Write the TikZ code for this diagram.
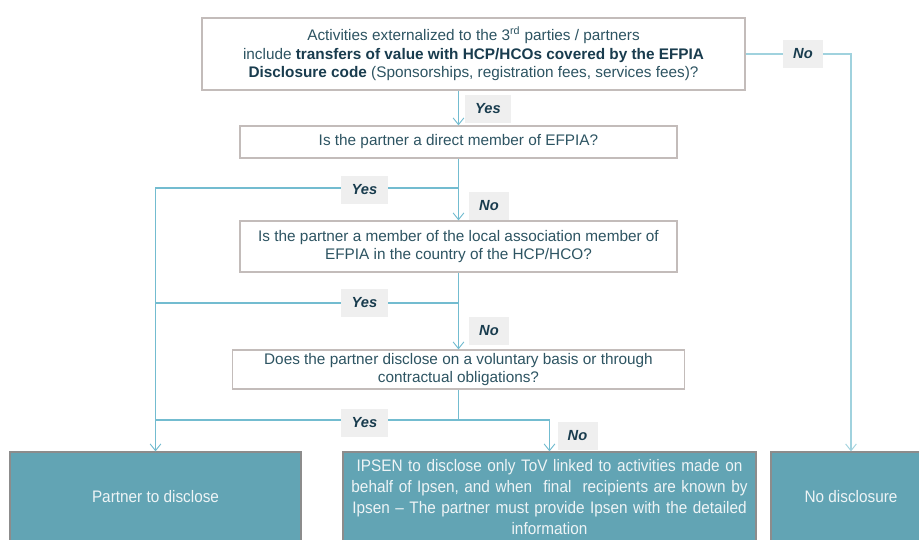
\documentclass[tikz,border=0pt]{standalone}
\usepackage{fontspec}
\setmainfont{Liberation Sans}
\newfontfamily\narrowfont[FakeStretch=0.92,Ligatures=TeX]{Liberation Sans}
\usetikzlibrary{arrows.meta}
\definecolor{txt}{RGB}{45,84,98}
\definecolor{boldtxt}{RGB}{25,60,78}
\definecolor{boxline}{RGB}{195,188,186}
\definecolor{conn}{RGB}{115,188,208}
\definecolor{connlight}{RGB}{160,210,222}
\definecolor{lblfill}{RGB}{239,239,239}
\definecolor{tealfill}{RGB}{98,164,180}
\definecolor{tealline}{RGB}{140,140,140}
\definecolor{endtxt}{RGB}{238,244,246}
\tikzset{
  qbox/.style={draw=boxline, line width=0.9pt, fill=white, text=txt, align=center, inner sep=0pt, font=\fontsize{11.5}{14}\selectfont},
  endbox/.style={draw=tealline, line width=0.9pt, fill=tealfill, text=endtxt, align=center, inner sep=0pt, font=\narrowfont\fontsize{12.5}{15.9}\selectfont},
  flow/.style={draw=conn, line width=0.9pt},
  tip/.style={-{Straight Barb[length=5pt,width=8pt,line width=0.7pt]}},
  lbl/.style={fill=lblfill, text=boldtxt, inner sep=0pt, minimum height=21pt, font=\fontsize{11}{12}\selectfont\bfseries\itshape},
  yeslbl/.style={lbl, minimum width=35pt},
  nolbl/.style={lbl, minimum width=30pt}
}
\begin{document}
\begin{tikzpicture}[x=0.75pt,y=-0.75pt]
\useasboundingbox (0,0) rectangle (919,539);
% question boxes
\node[qbox, minimum width=407.25pt, minimum height=54pt] (b1) at (473.5,54)
 {Activities externalized to the 3\textsuperscript{rd} parties / partners\\
  include \textcolor{boldtxt}{\textbf{transfers of value with HCP/HCOs covered by the EFPIA}}\\
  \textcolor{boldtxt}{\textbf{Disclosure code}} (Sponsorships, registration fees, services fees)?};
\node[qbox, minimum width=327.75pt, minimum height=24pt] (b2) at (458.5,142)
 {Is the partner a direct member of EFPIA?};
\node[qbox, minimum width=327.75pt, minimum height=38.25pt] (b3) at (458.5,246.5)
 {Is the partner a member of the local association member of\\ EFPIA in the country of the HCP/HCO?};
\node[qbox, minimum width=339pt, minimum height=29.25pt] (b4) at (458.5,369.5)
 {Does the partner disclose on a voluntary basis or through\\ contractual obligations?};
% end boxes
\node[endbox, minimum width=218.25pt, minimum height=67.5pt] (A) at (155.5,497) {Partner to disclose};
\node[endbox, minimum width=309.75pt, minimum height=67.5pt, text width=305pt] (B) at (549.5,497)
 {IPSEN to disclose only ToV linked to activities made on\\ behalf of Ipsen, and when\ \ final\ \ recipients are known by\\ Ipsen – The partner must provide Ipsen with the detailed\\ information};
\node[endbox, minimum width=120pt, minimum height=67.5pt] (C) at (851,497) {No disclosure};
% junctions
\coordinate (j1) at (458.5,188);
\coordinate (j2) at (458.5,303);
\coordinate (j3) at (458.5,420);
% connectors
\draw[flow, tip] (b2.north |- b1.south) -- (b2.north);
\draw[flow, draw=connlight, tip] (b1.east) -| (C.north);
\draw[flow, tip] (b2.south) -- (b3.north);
\draw[flow] (j1) -| (A.north);
\draw[flow] (b3.south) -- (j2) -- (j2 -| A.north);
\draw[flow, tip] (j2) -- (b4.north);
\draw[flow] (b4.south) -- (j3);
\draw[flow, tip] (j3) -| (A.north);
\draw[flow, tip] (j3) -| (B.north);
% labels
\node[yeslbl] (y1) at (488,109) {Yes};
\node[nolbl] (n1) at (803,54) {No};
\node[yeslbl] (y2) at (364.5,190) {Yes};
\node[nolbl] (n2) at (489,205.5) {No};
\node[yeslbl] (y3) at (364.5,302.5) {Yes};
\node[nolbl] (n3) at (489,331) {No};
\node[yeslbl] (y4) at (364.5,423) {Yes};
\node[nolbl] (n4) at (577.5,436) {No};
\end{tikzpicture}
\end{document}
